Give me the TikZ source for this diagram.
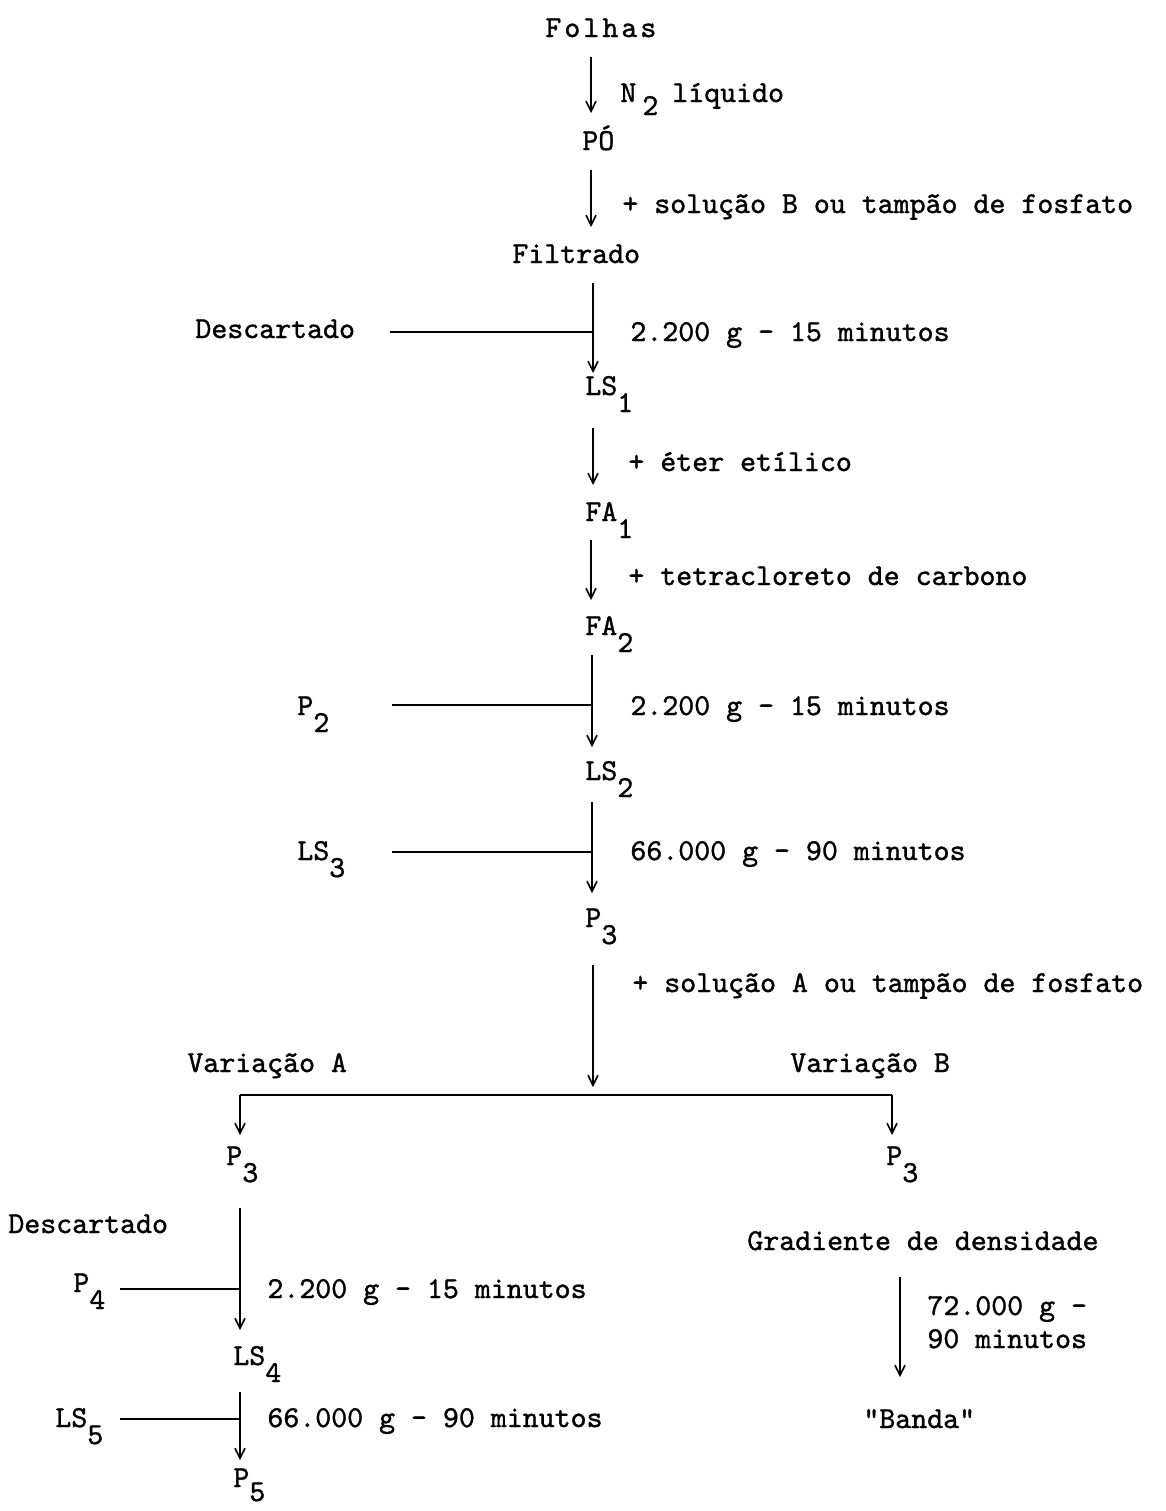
\documentclass[tikz,border=0pt]{standalone}
\usepackage{fontspec}
\newfontfamily\tw{lmmono10-regular.otf}[FakeBold=1.2]
\usetikzlibrary{arrows.meta}
\newcommand{\dn}[1]{\raisebox{-8.5pt}{#1}}
\newcommand{\dnn}[1]{\raisebox{-6.5pt}{#1}}
\begin{document}
\begin{tikzpicture}[x=0.5pt,y=-0.5pt,
  every node/.style={font=\tw\fontsize{15.2}{18}\selectfont, inner sep=0pt, anchor=base west},
  arr/.style={line width=0.8pt, -{Straight Barb[length=5pt,width=5pt]}},
  ln/.style={line width=0.8pt}]
\useasboundingbox[fill=white] (0,0) rectangle (1166,1511);

% ---------- main column ----------
\node (folhas) at (545,37) {\addfontfeature{LetterSpace=10}Folhas};
\coordinate (a1s) at (591,57); \coordinate (a1e) at (591,113);
\draw[arr] (a1s) -- (a1e);
\node (n2) at (620,102) {N\hspace{3pt}\dnn{2}\hspace{7pt}líquido};
\node (po) at (582,150) {PÓ};

\coordinate (a2s) at (591,170); \coordinate (a2e) at (591,227);
\draw[arr] (a2s) -- (a2e);
\node (solB) at (622,213) {+ solução B ou tampão de fosfato};
\node (filt) at (512,263) {Filtrado};

\coordinate (a3s) at (593,283); \coordinate (a3e) at (593,373);
\coordinate (j1) at (593,332); \coordinate (h1) at (390,332);
\draw[arr] (a3s) -- (a3e);
\draw[ln] (h1) -- (j1);
\node (desc1) at (195,338) {Descartado};
\node (c1) at (630,341) {2.200 g - 15 minutos};
\node (ls1) at (585,395) {LS\dn{1}};

\coordinate (a4s) at (593,428); \coordinate (a4e) at (593,485);
\draw[arr] (a4s) -- (a4e);
\node (eter) at (628,471) {+ éter etílico};
\node (fa1) at (585,521) {FA\dn{1}};

\coordinate (a5s) at (591,540); \coordinate (a5e) at (591,600);
\draw[arr] (a5s) -- (a5e);
\node (tetra) at (628,585) {+ tetracloreto de carbono};
\node (fa2) at (585,635) {FA\dn{2}};

\coordinate (a6s) at (592,655); \coordinate (a6e) at (592,747);
\coordinate (j2) at (592,705); \coordinate (h2) at (392,705);
\draw[arr] (a6s) -- (a6e);
\draw[ln] (h2) -- (j2);
\node (p2) at (297,715) {P\dn{2}};
\node (c2) at (630,715) {2.200 g - 15 minutos};
\node (ls2) at (585,780) {LS\dn{2}};

\coordinate (a7s) at (592,802); \coordinate (a7e) at (592,893);
\coordinate (j3) at (592,852); \coordinate (h3) at (392,852);
\draw[arr] (a7s) -- (a7e);
\draw[ln] (h3) -- (j3);
\node (ls3) at (297,860) {LS\dn{3}};
\node (c3) at (630,860) {66.000 g - 90 minutos};
\node (p3) at (585,927) {P\dn{3}};

\coordinate (a8s) at (593,965); \coordinate (a8e) at (593,1087);
\draw[arr] (a8s) -- (a8e);
\node (solA) at (632,992) {+ solução A ou tampão de fosfato};
\node (varA) at (187,1072) {Variação A};
\node (varB) at (790,1072) {Variação B};

% ---------- split bar ----------
\coordinate (bl) at (240,1095); \coordinate (br) at (892,1095);
\coordinate (ble) at (240,1135); \coordinate (bre) at (892,1135);
\draw[ln] (bl) -- (br);
\draw[arr] (bl) -- (ble);
\draw[arr] (br) -- (bre);
\node (p3a) at (226,1165) {P\dn{3}};
\node (p3b) at (886,1165) {P\dn{3}};

% ---------- variation A ----------
\node (desc2) at (8,1233) {Descartado};
\coordinate (b1s) at (240,1208); \coordinate (b1e) at (240,1330);
\coordinate (j4) at (240,1289); \coordinate (h4) at (120,1289);
\draw[arr] (b1s) -- (b1e);
\draw[ln] (h4) -- (j4);
\node (p4) at (73,1292) {P\dn{4}};
\node (c4) at (267,1298) {2.200 g - 15 minutos};
\node (ls4) at (233,1365) {LS\dn{4}};

\coordinate (b2s) at (240,1392); \coordinate (b2e) at (240,1460);
\coordinate (j5) at (240,1419); \coordinate (h5) at (120,1419);
\draw[arr] (b2s) -- (b2e);
\draw[ln] (h5) -- (j5);
\node (ls5) at (55,1427) {LS\dn{5}};
\node (c5) at (267,1427) {66.000 g - 90 minutos};
\node (p5) at (233,1487) {P\raisebox{-7pt}{5}};

% ---------- variation B ----------
\node (grad) at (747,1250) {Gradiente de densidade};
\coordinate (c1s) at (900,1277); \coordinate (c1e) at (900,1377);
\draw[arr] (c1s) -- (c1e);
\node (c6a) at (927,1315) {72.000 g -};
\node (c6b) at (927,1348) {90 minutos};
\node (banda) at (863,1428) {"Banda"};
\end{tikzpicture}
\end{document}
